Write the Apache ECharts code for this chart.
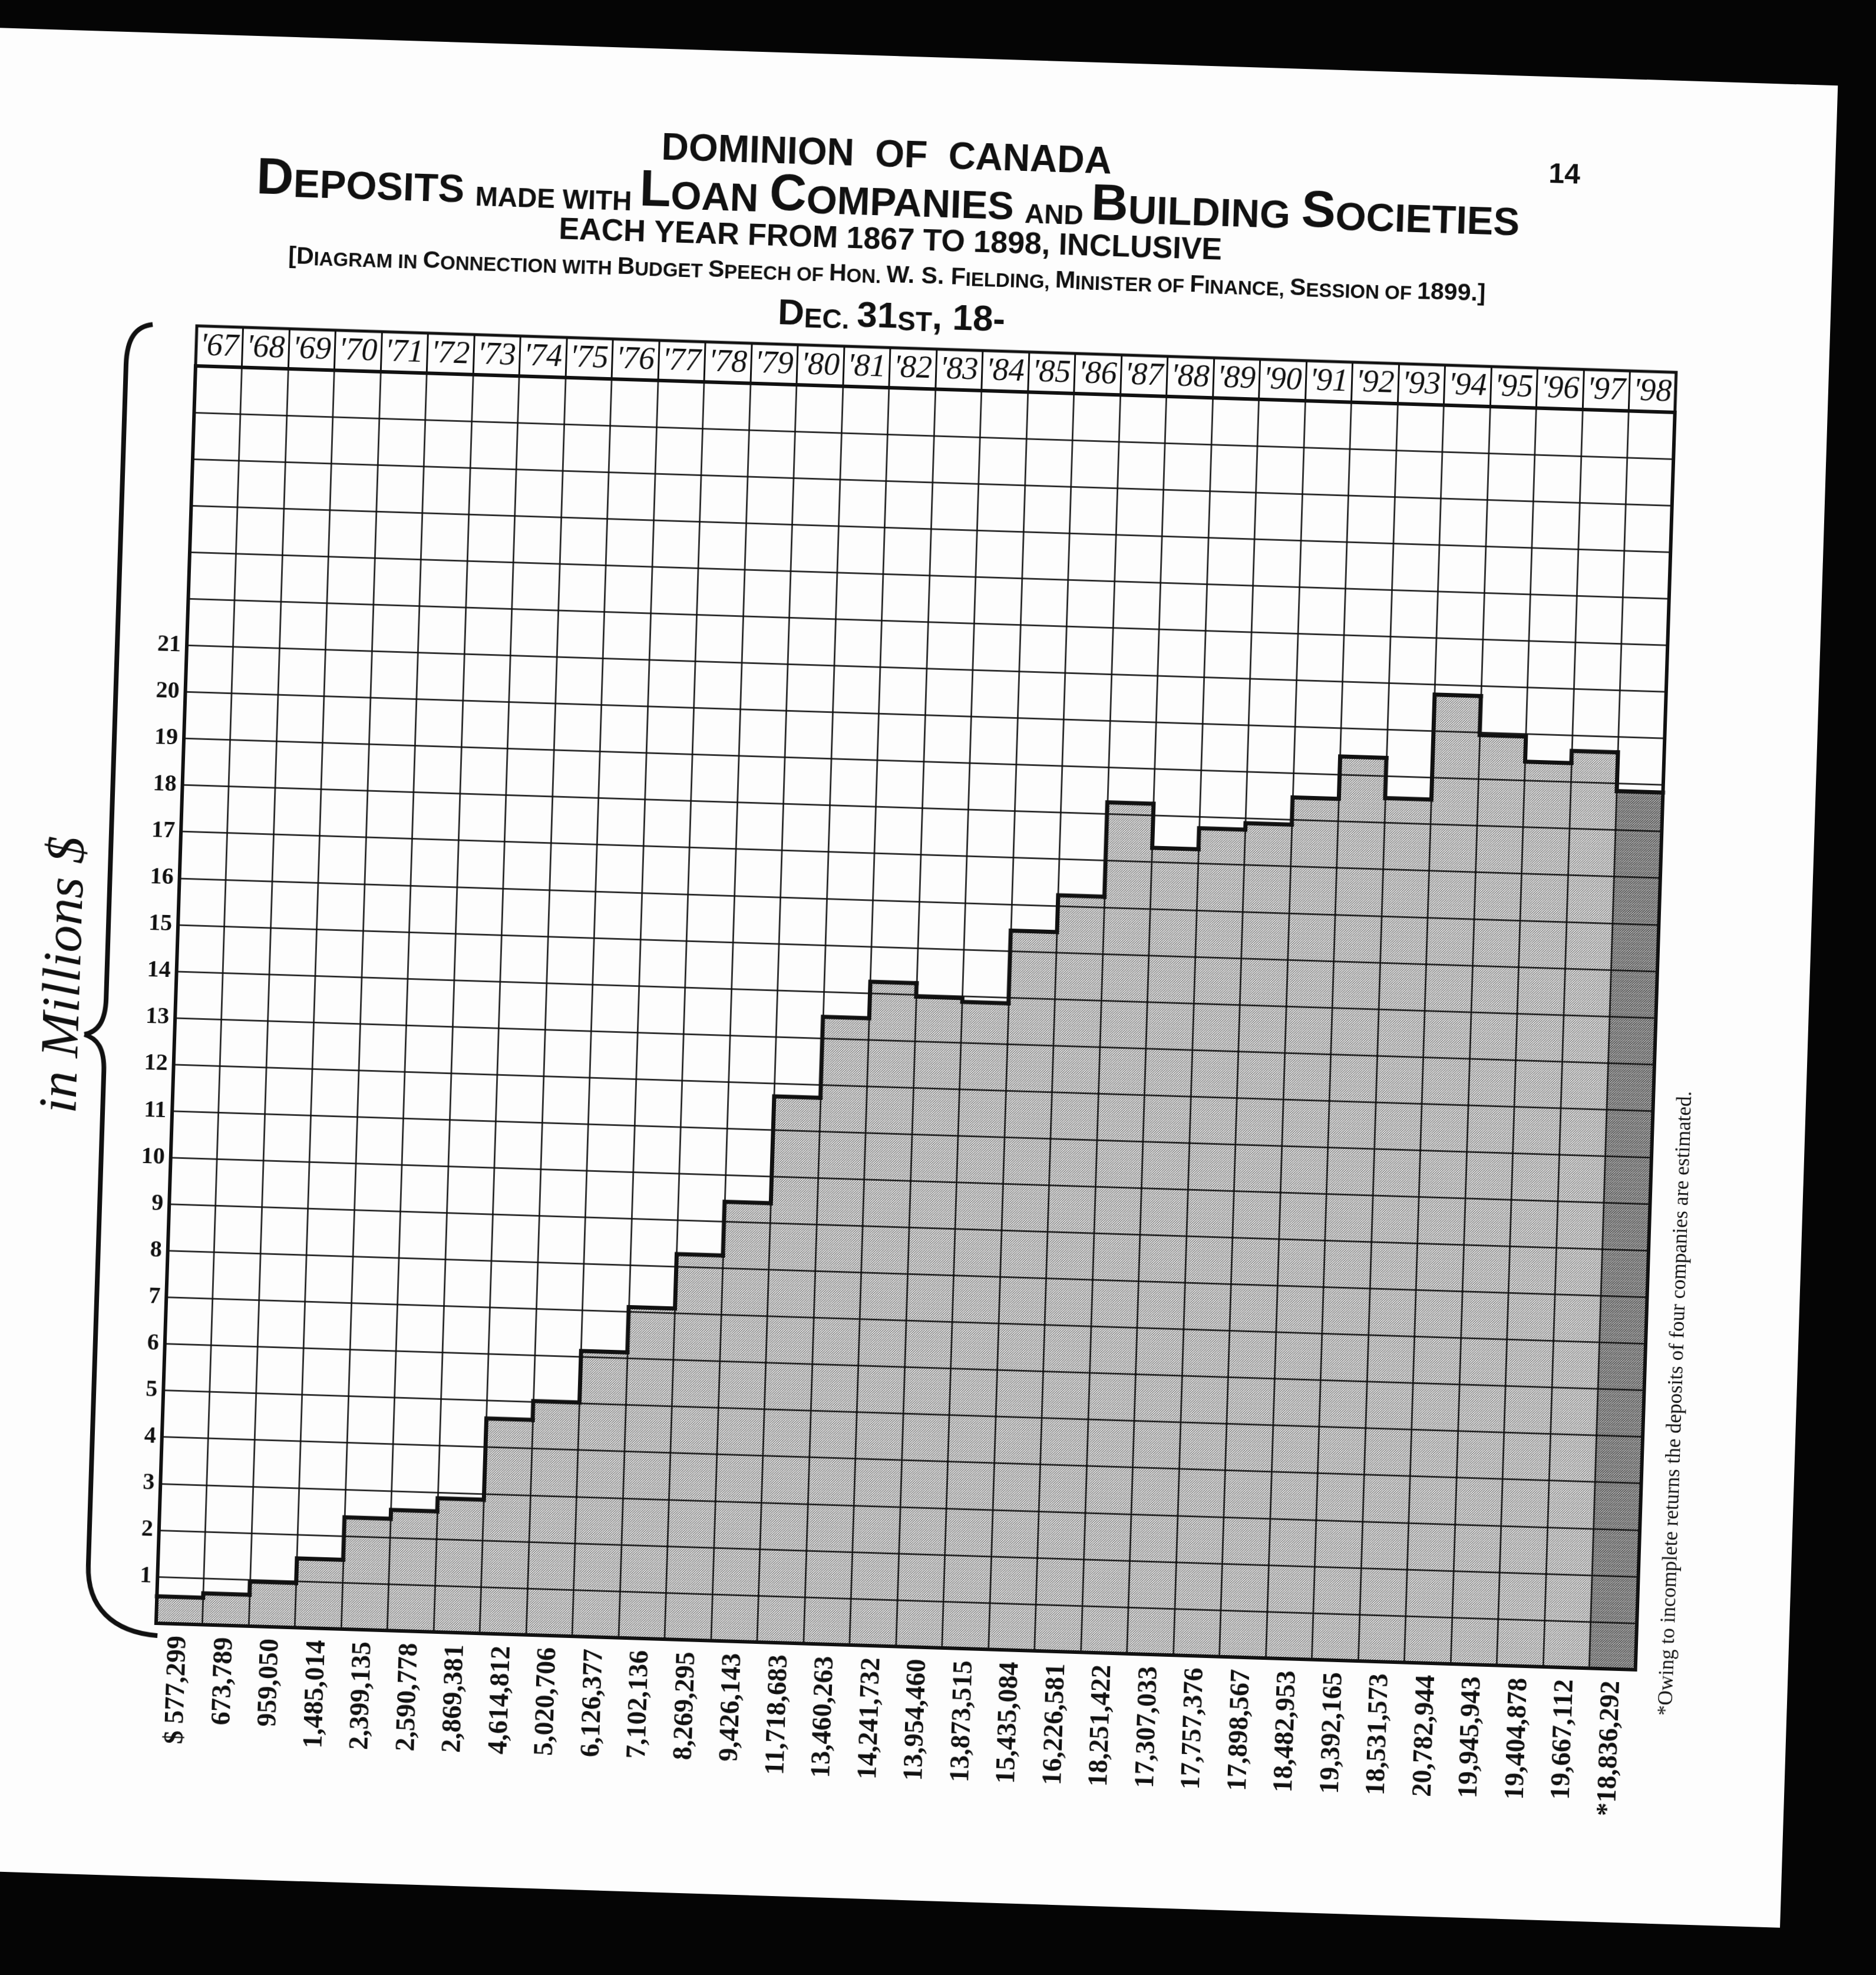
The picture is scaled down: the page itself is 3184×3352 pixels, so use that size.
<!DOCTYPE html>
<html>
<head>
<meta charset="utf-8">
<title>Deposits made with Loan Companies and Building Societies 1867-1898</title>
<script src="https://cdn.jsdelivr.net/npm/echarts/dist/echarts.min.js"></script>
<style>
  html, body { margin: 0; padding: 0; width: 3184px; height: 3352px; overflow: hidden; background: #050505; }
  #rot { position: absolute; left: 0; top: 0; width: 3184px; height: 3352px;
         transform-origin: 1556px 1689px; transform: rotate(1.8deg); }
  #page { position: absolute; left: -250px; top: 97px; width: 3320px; height: 3128px; background: #fdfdfd; }
  #chart { position: absolute; left: 0; top: 0; width: 3184px; height: 3352px; }
</style>
</head>
<body>
<div id="rot">
  <div id="page"></div>
  <div id="chart"></div>
</div>
<script>
// ---------------- data ----------------
const years = ["'67","'68","'69","'70","'71","'72","'73","'74","'75","'76","'77","'78","'79","'80","'81","'82",
               "'83","'84","'85","'86","'87","'88","'89","'90","'91","'92","'93","'94","'95","'96","'97","'98"];
const deposits = [577299, 673789, 959050, 1485014, 2399135, 2590778, 2869381, 4614812, 5020706, 6126377,
                  7102136, 8269295, 9426143, 11718683, 13460263, 14241732, 13954460, 13873515, 15435084, 16226581,
                  18251422, 17307033, 17757376, 17898567, 18482953, 19392165, 18531573, 20782944, 19945943, 19404878,
                  19667112, 18836292];
const valueLabels = ["$ 577,299","673,789","959,050","1,485,014","2,399,135","2,590,778","2,869,381","4,614,812",
                     "5,020,706","6,126,377","7,102,136","8,269,295","9,426,143","11,718,683","13,460,263","14,241,732",
                     "13,954,460","13,873,515","15,435,084","16,226,581","18,251,422","17,307,033","17,757,376","17,898,567",
                     "18,482,953","19,392,165","18,531,573","20,782,944","19,945,943","19,404,878","19,667,112","*18,836,292"];
const yTickLabels = ["1","2","3","4","5","6","7","8","9","10","11","12","13","14","15","16","17","18","19","20","21"];
const estimatedYears = ["'98"];
const yMaxMillions = 27;

// ---------------- styles ----------------
function hatch(bg, fg, lw) {
  const c = document.createElement('canvas');
  c.width = 8; c.height = 8;
  const g = c.getContext('2d');
  g.fillStyle = bg; g.fillRect(0, 0, 8, 8);
  g.strokeStyle = fg; g.lineWidth = lw;
  for (let k = -8; k <= 16; k += 4) {
    g.beginPath(); g.moveTo(k, 8); g.lineTo(k + 8, 0); g.stroke();
  }
  return c;
}
const lightFill = { image: hatch('#f0f0f0', '#555555', 1.05), repeat: 'repeat' };
const darkFill  = { image: hatch('#c0c0c0', '#383838', 1.25), repeat: 'repeat' };

const INK = '#111';
const GL = 299, GW = 2512, GT = 660, GH = 2135, HT = 592, HH = 68;

const chart = echarts.init(document.getElementById('chart'), null, { renderer: 'canvas' });

function txt(x, y, text, font, extra) {
  return Object.assign({
    type: 'text', x: x, y: y, silent: true,
    style: { text: text, font: font, fill: INK, textAlign: 'center', textVerticalAlign: 'middle',
             align: 'center', verticalAlign: 'middle' }
  }, extra || {});
}
function rich(x, y, text, richDef) {
  return {
    type: 'text', x: x, y: y, silent: true,
    style: { text: text, fill: INK, textAlign: 'center', textVerticalAlign: 'middle',
             align: 'center', verticalAlign: 'middle', rich: richDef }
  };
}
function tok(size) {
  return { fontSize: size, fontFamily: 'Liberation Sans', fontWeight: 'bold', fill: INK,
           lineHeight: size, verticalAlign: 'bottom' };
}
const braceStyle = { stroke: INK, lineWidth: 8, fill: null };
function curve(x1, y1, cx1, cy1, cx2, cy2, x2, y2) {
  return { type: 'bezierCurve', silent: true,
           shape: { x1: x1, y1: y1, cpx1: cx1, cpy1: cy1, cpx2: cx2, cpy2: cy2, x2: x2, y2: y2 },
           style: braceStyle };
}
function seg(x1, y1, x2, y2) {
  return { type: 'line', silent: true, shape: { x1: x1, y1: y1, x2: x2, y2: y2 }, style: braceStyle };
}

const option = {
  animation: false,
  backgroundColor: 'transparent',
  grid: [
    { left: GL, top: GT, width: GW, height: GH, show: true, borderColor: INK, borderWidth: 6,
      backgroundColor: 'transparent', z: 4 },
    { left: GL, top: HT, width: GW, height: HH, show: true, borderColor: INK, borderWidth: 5,
      backgroundColor: 'transparent', z: 4 }
  ],
  xAxis: [
    { gridIndex: 0, type: 'category', data: years, boundaryGap: true, z: 3,
      axisLine: { show: false }, axisTick: { show: false },
      splitLine: { show: true, interval: 0, lineStyle: { color: INK, width: 2.5 } },
      axisLabel: { interval: 0, rotate: 90, margin: 20, color: INK,
                   fontFamily: 'Liberation Serif', fontWeight: 'bold', fontSize: 46,
                   formatter: (v, i) => valueLabels[i] } },
    { gridIndex: 1, type: 'category', data: years, boundaryGap: true, z: 3,
      axisLine: { show: false }, axisTick: { show: false },
      splitLine: { show: true, interval: 0, lineStyle: { color: INK, width: 3 } },
      axisLabel: { interval: 0, inside: true, margin: 33, verticalAlign: 'middle', color: INK,
                   fontFamily: 'Liberation Serif', fontStyle: 'italic', fontSize: 54 } }
  ],
  yAxis: [
    { gridIndex: 0, type: 'value', min: 0, max: yMaxMillions * 1e6, interval: 1e6, z: 3,
      axisLine: { show: false }, axisTick: { show: false },
      splitLine: { show: true, lineStyle: { color: INK, width: 2.5 } },
      axisLabel: { margin: 10, color: INK, verticalAlign: 'middle', padding: [0, 0, 30, 0],
                   fontFamily: 'Liberation Serif', fontWeight: 'bold', fontSize: 40,
                   formatter: v => { const n = Math.round(v / 1e6); return (n >= 1 && n <= yTickLabels.length) ? yTickLabels[n - 1] : ''; } } },
    { gridIndex: 1, type: 'value', min: 0, max: 1, show: false }
  ],
  series: [
    { type: 'bar', xAxisIndex: 0, yAxisIndex: 0, barWidth: '100%', z: 2, silent: true,
      data: deposits.map((v, i) => ({ value: v,
        itemStyle: { color: estimatedYears.includes(years[i]) ? darkFill : lightFill } })) },
    { type: 'custom', xAxisIndex: 0, yAxisIndex: 0, z: 10, silent: true,
      data: deposits.map((v, i) => [i, v]),
      renderItem: (params, api) => {
        const i = params.dataIndex;
        const p = api.coord([i, api.value(1)]);
        const w = api.size([1, 0])[0];
        const l = p[0] - w / 2, r = p[0] + w / 2;
        const pts = [];
        if (i > 0) { const q = api.coord([i - 1, deposits[i - 1]]); pts.push([l, q[1]]); }
        pts.push([l, p[1]], [r, p[1]]);
        return { type: 'polyline', shape: { points: pts },
                 style: { stroke: INK, lineWidth: 7, fill: null, lineJoin: 'miter', lineCap: 'square' } };
      } }
  ],
  graphic: [
    txt(1460, 267, 'DOMINION  OF  CANADA', 'bold 64px "Liberation Sans"'),
    rich(1465, 340, '{b|D}{m|EPOSITS }{s|MADE WITH }{b|L}{m|OAN }{b|C}{m|OMPANIES }{s|AND }{b|B}{m|UILDING }{b|S}{m|OCIETIES}',
         { b: tok(87), m: tok(67), s: tok(46) }),
    txt(1471, 411, 'EACH YEAR FROM 1867 TO 1898, INCLUSIVE', 'bold 52px "Liberation Sans"'),
    rich(1467, 470, '{b|[D}{s|IAGRAM IN }{b|C}{s|ONNECTION WITH }{b|B}{s|UDGET }{b|S}{s|PEECH OF }{b|H}{s|ON. }{b|W. S. F}{s|IELDING, }{b|M}{s|INISTER OF }{b|F}{s|INANCE, }{b|S}{s|ESSION OF }{b|1899.]}',
         { b: tok(41), s: tok(33) }),
    rich(1477, 541, '{b|D}{s|EC. }{b|31}{s|ST}{b|, 18-}', { b: tok(62), s: tok(46) }),
    txt(2611, 264, '14', 'bold 48px "Liberation Sans"'),
    curve(224, 592, 196, 596, 181, 616, 181, 662),
    seg(181, 662, 181, 1738),
    curve(181, 1738, 181, 1778, 168, 1795, 146, 1800),
    curve(146, 1800, 168, 1806, 181, 1822, 181, 1862),
    seg(181, 1862, 181, 2700),
    curve(181, 2700, 181, 2772, 226, 2812, 302, 2816),
    txt(111, 1700, 'in Millions $', 'italic 92px "Liberation Serif"', { rotation: Math.PI / 2 }),
    txt(2866, 2341, '*Owing to incomplete returns the deposits of four companies are estimated.',
        '35px "Liberation Serif"', { rotation: Math.PI / 2 })
  ]
};
chart.setOption(option);
</script>
</body>
</html>
